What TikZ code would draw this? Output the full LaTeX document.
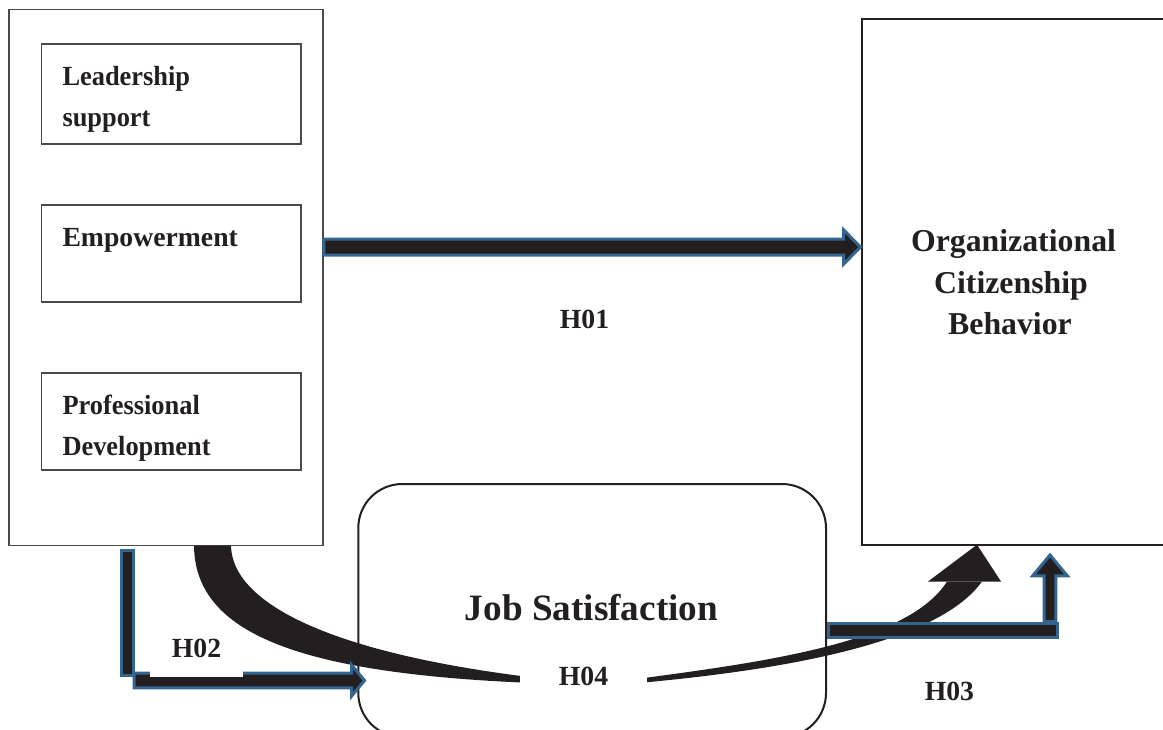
\documentclass[tikz,border=0pt]{standalone}
\usepackage{fontspec}
\usepackage{graphicx}
\setmainfont{Liberation Serif}
\usetikzlibrary{calc}
\definecolor{ink}{HTML}{231F20}
\definecolor{edgeblue}{HTML}{346591}
\definecolor{boxgray}{HTML}{4A4A4A}
% slightly condensed setting used for the antecedent labels
\newcommand{\narrowtxt}[1]{\scalebox{0.953}[1]{#1}}

\begin{document}
\begin{tikzpicture}[x=1pt,y=-1pt,
  txt/.style={font=\fontsize{27.7}{41}\selectfont\bfseries, text=ink, inner sep=0pt},
  bigtxt/.style={font=\fontsize{31.8}{41.5}\selectfont\bfseries, text=ink, inner sep=0pt},
  jstxt/.style={font=\fontsize{37.2}{44}\selectfont\bfseries, text=ink, inner sep=0pt},
  panel/.style={draw=boxgray, line width=1.3pt, inner sep=0pt, outer sep=0pt},
  subbox/.style={draw=boxgray, line width=1.2pt, inner sep=0pt, outer sep=0pt},
  frame/.style={draw=ink, inner sep=0pt, outer sep=0pt},
  blockarrow/.style={fill=ink, draw=edgeblue, line width=3pt, line join=miter},
  swoosh/.style={fill=ink, draw=none},
  cover/.style={fill=white}
]
\useasboundingbox (0,0) rectangle (1163,729);
\clip (0,0) rectangle (1163,729);

% ---- left panel with its three antecedents ----
\node[panel, minimum width=314pt, minimum height=536.1pt] (lft) at (166,277.65) {};
\node[subbox, minimum width=259.7pt, minimum height=100pt] (ls) at (171.15,94) {};
\node[subbox, minimum width=259.7pt, minimum height=97pt] (em) at (171.15,253.5) {};
\node[subbox, minimum width=259.7pt, minimum height=97pt] (pd) at (171.15,421.5) {};
\node[txt, anchor=base west] (lsA) at (62.3,85.7) {\narrowtxt{Leadership}};
\node[txt, anchor=base west] (lsB) at (62.3,126.8) {\narrowtxt{support}};
\node[txt, anchor=base west] (emA) at (62.3,246.4) {Empowerment};
\node[txt, anchor=base west] (pdA) at (62.3,414.3) {\narrowtxt{Professional}};
\node[txt, anchor=base west] (pdB) at (62.3,455.4) {\narrowtxt{Development}};

% ---- outcome box ----
\node[frame, line width=2.2pt, minimum width=313.4pt, minimum height=526.1pt] (ocb) at (1018.4,281.65) {};
\node[bigtxt, anchor=base] (ocA) at (1013.5,251.8) {Organizational};
\node[bigtxt, anchor=base] (ocB) at (1011,293.6) {Citizenship};
\node[bigtxt, anchor=base] (ocC) at (1010,334.6) {Behavior};

% ---- mediator ----
\node[frame, line width=2pt, rounded corners=44pt, minimum width=467.7pt, minimum height=253pt] (jsb) at (592.15,610.5) {};
\node[jstxt, anchor=base] (jsA) at (591.5,620.7) {Job Satisfaction};

% ---- H01: direct path ----
\coordinate (r247) at (0,247);
\coordinate (h1s) at ($(lft.east |- r247)+(0.8,0)$);
\coordinate (h1e) at ($(ocb.west |- r247)+(-1.2,0)$);
\draw[blockarrow] ($(h1s)+(0,-8)$) -- ($(h1e)+(-17,-8)$) -- ($(h1e)+(-17,-17.2)$)
  -- (h1e) -- ($(h1e)+(-17,17.2)$) -- ($(h1e)+(-17,8)$) -- ($(h1s)+(0,8)$) -- cycle;
\node[txt, anchor=base] (h01) at (584.5,328) {H01};

% ---- H04: indirect path through the mediator ----
\fill[swoosh] (lft.south -| 194,0) .. controls (195,630) and (290,672) .. (521,682.5)
  -- (521,676) .. controls (320,650) and (232,600) .. (231,545.7) -- cycle;
\fill[swoosh] (644,678) .. controls (780,660) and (910,640) .. (947,581.5)
  -- (982,581.5) .. controls (940,640) and (800,668) .. (644,682.5) -- cycle;
\fill[swoosh] (928,581.5) -- (ocb.south -| 977,0) -- (1001,581.5) -- cycle;
\node[txt, anchor=base, cover, minimum width=127pt, text height=24pt, text depth=8pt] (h04) at (583.5,685.5) {H04};

% ---- H02: antecedents to mediator ----
\coordinate (r680) at (0,680.5);
\coordinate (h2e) at ($(jsb.west |- r680)+(6.2,0)$);
\draw[blockarrow] (121.8,550.8) rectangle (133.8,675.5);
\draw[blockarrow] (134.2,673.2) -- ($(h2e)+(-13,-7.3)$) -- ($(h2e)+(-13,-15.7)$)
  -- (h2e) -- ($(h2e)+(-13,15.7)$) -- ($(h2e)+(-13,7.3)$) -- (134.2,687.8) -- cycle;
\node[txt, anchor=base, cover, minimum width=93pt, text depth=19pt] (h02) at (196.5,657.7) {H02};

% ---- H03: mediator to outcome ----
\coordinate (c1050) at (1050,0);
\coordinate (h3e) at ($(ocb.south -| c1050)+(0,10.3)$);
\draw[blockarrow] (1044.2,621.5) -- (1044.2,575.8) -- (1032.7,575.8) -- (h3e)
  -- (1067.3,575.8) -- (1055.8,575.8) -- (1055.8,621.5) -- cycle;
\draw[blockarrow] ($(jsb.east |- 0,623.2)+(2.2,0)$) rectangle (1057.5,637.8);
\node[txt, anchor=base] (h03) at (949.4,700.7) {H03};
\end{tikzpicture}
\end{document}
